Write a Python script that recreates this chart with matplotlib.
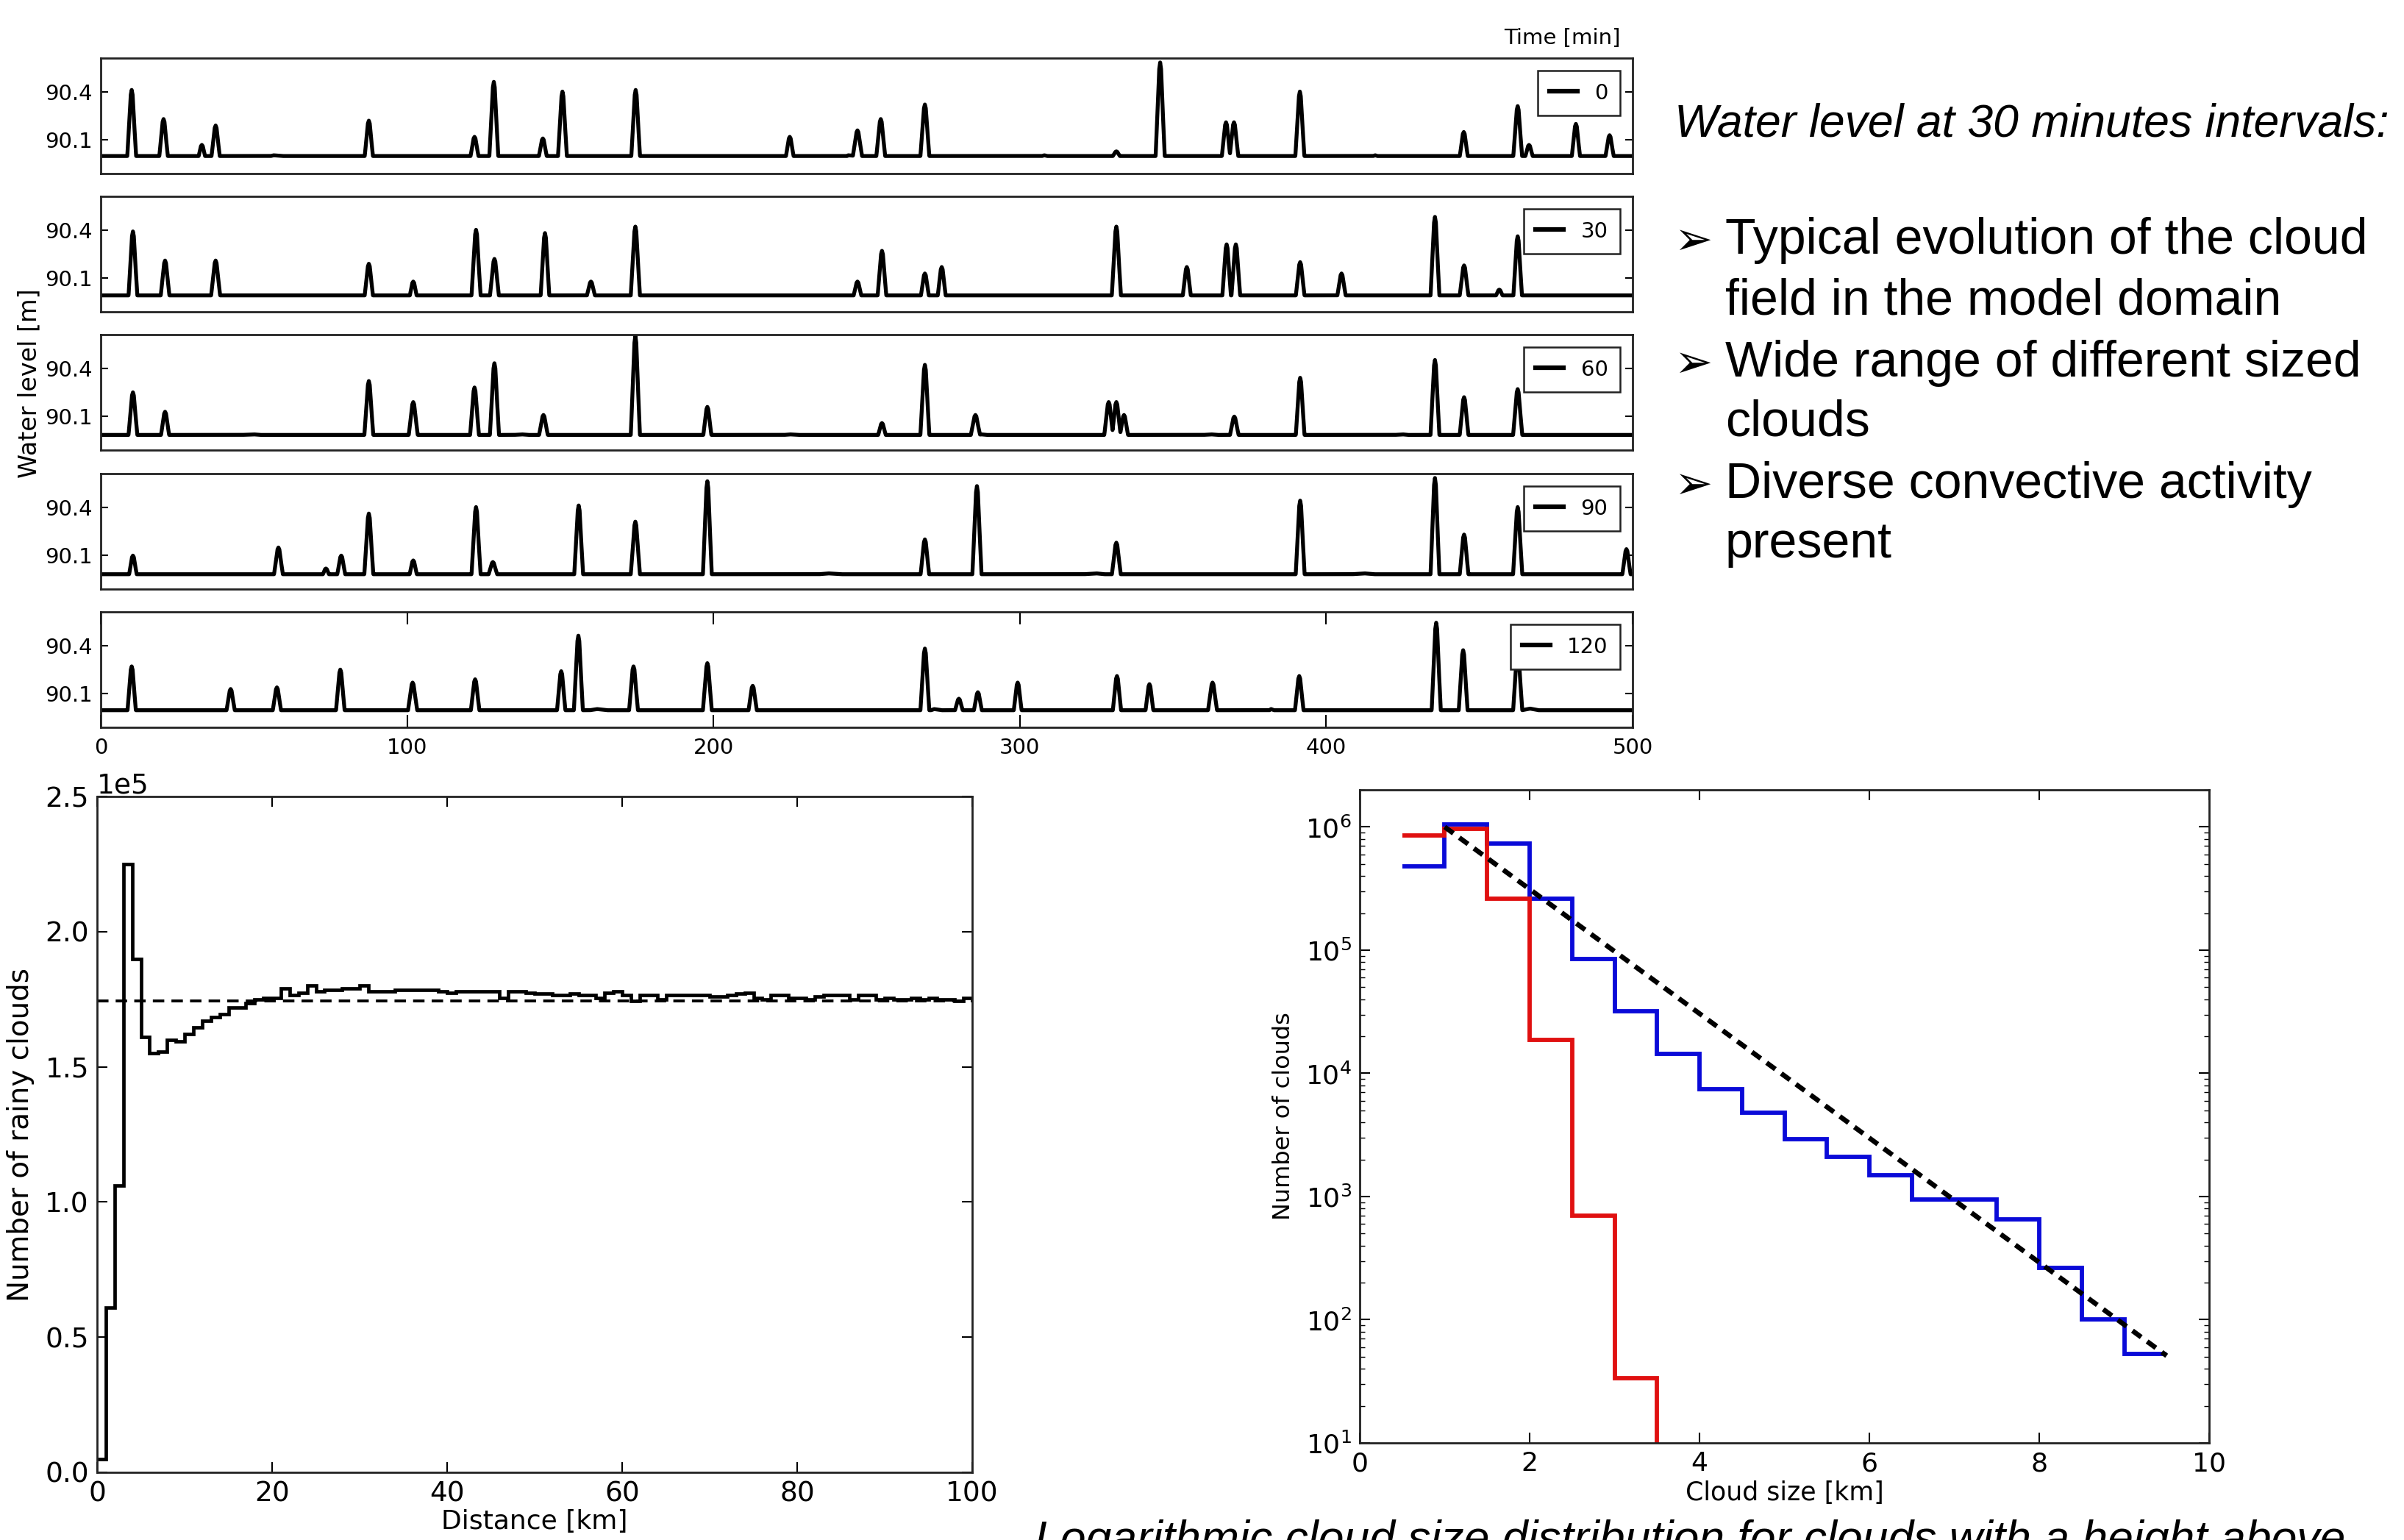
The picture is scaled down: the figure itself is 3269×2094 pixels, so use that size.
import numpy as np
import matplotlib
matplotlib.use("Agg")
import matplotlib.pyplot as plt

plt.rcParams['font.family'] = ['DejaVu Sans']

# ---- top panels: water level along the domain, every 30 min ----
times = ['0', '30', '60', '90', '120']

# background level (km, m)
base_x_0 = [0, 9, 17.6, 25.2, 31, 41, 46, 49.6, 56.4, 68, 73, 78, 85, 97, 107, 110, 114, 119,
            134, 141.4, 157, 167, 181, 186, 192, 196, 203, 207, 210, 215, 220, 231, 241, 244,
            254, 270, 277, 282, 286, 291, 299, 308, 317, 331, 349, 357, 372, 379, 386, 395,
            402, 410, 416, 426, 431, 436, 449, 454, 463, 470, 477, 482, 491, 500]
base_y_0 = [89.984, 89.984, 89.966, 90.0, 89.961, 89.984, 89.991, 89.972, 90.006, 89.988,
            89.988, 89.951, 89.966, 89.991, 89.987, 89.966, 89.991, 89.976, 89.991, 89.976,
            89.991, 89.954, 89.991, 89.976, 89.946, 89.987, 89.984, 89.951, 89.994, 89.969,
            89.976, 89.969, 89.969, 90.006, 89.991, 89.991, 89.994, 89.957, 89.987, 89.991,
            89.954, 90.006, 89.961, 89.991, 89.994, 89.946, 89.991, 89.993, 89.991, 89.994,
            89.954, 89.966, 90.006, 89.941, 90.0, 89.972, 89.976, 89.991, 89.984, 89.976,
            89.991, 89.969, 89.984, 89.976]
base_x_30 = list(np.arange(0, 501, 12.5))
base_y_30 = [89.975, 89.97, 89.985, 89.99, 89.965, 89.975, 89.995, 89.97, 89.955, 89.98,
             89.99, 89.975, 89.96, 89.985, 89.995, 89.97, 89.985, 89.96, 89.975, 89.99,
             89.97, 89.98, 89.96, 89.975, 89.99, 89.965, 89.98, 89.995, 89.97, 89.955,
             89.985, 89.975, 89.99, 89.96, 89.98, 89.97, 89.99, 89.965, 89.98, 89.975, 89.97]
base_x_60 = list(np.arange(0, 501, 12.5))
base_y_60 = [89.965, 89.975, 89.96, 89.98, 89.99, 89.97, 89.955, 89.975, 89.985, 89.96,
             89.975, 89.99, 89.97, 89.96, 89.985, 89.975, 89.955, 89.97, 89.99, 89.975,
             89.96, 89.98, 89.97, 89.99, 89.965, 89.975, 89.985, 89.96, 89.975, 89.99,
             89.97, 89.955, 89.98, 89.975, 89.99, 89.965, 89.975, 89.985, 89.96, 89.97, 89.965]
base_x_90 = list(np.arange(0, 501, 12.5))
base_y_90 = [89.96, 89.955, 89.965, 89.95, 89.97, 89.98, 89.96, 89.975, 89.955, 89.965,
             89.98, 89.97, 89.955, 89.975, 89.985, 89.965, 89.96, 89.98, 89.97, 89.99,
             89.975, 89.96, 89.97, 89.985, 89.96, 89.975, 89.99, 89.965, 89.955, 89.975,
             89.98, 89.965, 89.975, 89.99, 89.97, 89.955, 89.975, 89.985, 89.965, 89.975, 89.96]
base_x_120 = [0, 7.6, 16, 25, 29.4, 32.8, 37, 41, 48, 55, 68, 77, 86, 97, 107, 115.5, 129, 139,
              143, 152, 162, 169, 176, 181, 184, 189, 195, 203, 208, 218, 230, 240, 251, 258,
              263, 265.8, 272, 284, 294, 302, 307, 321, 327, 335, 338.5, 354, 365, 370, 374,
              378, 382, 386, 395, 406.5, 411, 418, 422, 426, 433, 441, 452, 457, 460, 466.5,
              478, 485, 489, 494, 500]
base_y_120 = [89.956, 89.968, 89.961, 89.968, 89.99, 89.965, 89.991, 89.984, 89.968, 89.981,
              89.981, 89.984, 89.953, 89.999, 89.999, 89.991, 89.972, 89.999, 89.956, 89.976,
              90.006, 89.991, 89.984, 89.961, 89.987, 89.961, 89.999, 89.968, 89.991, 89.968,
              89.991, 89.976, 89.999, 89.972, 89.981, 89.961, 90.006, 89.972, 89.999, 89.946,
              89.976, 89.976, 89.953, 89.984, 89.961, 89.976, 89.999, 89.976, 89.991, 89.953,
              90.006, 89.976, 89.984, 89.999, 89.976, 89.968, 89.976, 89.953, 89.984, 89.999,
              89.946, 89.999, 89.984, 90.009, 89.968, 89.984, 89.991, 89.968, 89.968]

peak_x_0 = [10.1, 20.5, 33.0, 37.5, 87.5, 122.0, 128.3, 144.3, 150.7, 174.6, 224.9, 247.0,
            254.6, 269.0, 331.5, 345.8, 367.3, 369.9, 391.4, 444.9, 462.5, 466.2, 481.5, 492.5]
peak_h_0 = [90.41, 90.23, 90.07, 90.19, 90.22, 90.12, 90.46, 90.11, 90.40, 90.41, 90.12, 90.16,
            90.23, 90.32, 90.03, 90.58, 90.21, 90.21, 90.40, 90.15, 90.31, 90.07, 90.20, 90.13]
peak_x_30 = [10.5, 21, 37.5, 87.5, 102, 122.5, 128.5, 145, 160, 174.5, 247, 255, 269, 274.5,
             331.5, 354.5, 367.5, 370.5, 391.5, 405, 435.5, 445, 456.5, 462.5]
peak_h_30 = [90.39, 90.21, 90.21, 90.19, 90.08, 90.40, 90.22, 90.38, 90.08, 90.42, 90.08, 90.27,
             90.13, 90.17, 90.42, 90.17, 90.31, 90.31, 90.20, 90.13, 90.48, 90.18, 90.03, 90.36]
peak_x_60 = [10.5, 21, 87.5, 102, 122, 128.5, 144.5, 174.5, 198, 255, 269, 285.5, 329, 331.5,
             334, 370, 391.5, 435.5, 445, 462.5]
peak_h_60 = [90.25, 90.13, 90.32, 90.19, 90.28, 90.43, 90.11, 90.60, 90.16, 90.06, 90.42, 90.11,
             90.19, 90.19, 90.11, 90.10, 90.34, 90.45, 90.22, 90.27]
peak_x_90 = [10.5, 58, 73.5, 78.5, 87.5, 102, 122.5, 128, 156, 174.5, 198, 269, 286, 331.5,
             391.5, 435.5, 445, 462.5, 498]
peak_h_90 = [90.10, 90.15, 90.02, 90.10, 90.36, 90.07, 90.40, 90.06, 90.41, 90.31, 90.56, 90.20,
             90.53, 90.18, 90.44, 90.58, 90.23, 90.40, 90.14]
peak_x_120 = [10.1, 42.4, 57.5, 78.2, 101.8, 122.2, 150.3, 155.9, 173.9, 198.0, 212.8, 269.0,
              280.1, 286.3, 299.3, 331.7, 342.3, 362.9, 391.2, 435.9, 444.7, 462.5]
peak_h_120 = [90.27, 90.13, 90.14, 90.25, 90.17, 90.19, 90.24, 90.46, 90.27, 90.29, 90.15, 90.38,
              90.07, 90.11, 90.17, 90.21, 90.16, 90.17, 90.21, 90.54, 90.37, 90.37]

bases_x = [base_x_0, base_x_30, base_x_60, base_x_90, base_x_120]
bases_y = [base_y_0, base_y_30, base_y_60, base_y_90, base_y_120]
peaks_x = [peak_x_0, peak_x_30, peak_x_60, peak_x_90, peak_x_120]
peaks_h = [peak_h_0, peak_h_30, peak_h_60, peak_h_90, peak_h_120]

# ---- bottom left: rainy clouds vs distance (1 km bins, x1e5) ----
dist_edges = np.arange(0, 101, 1)
rainy = [0.05, 0.61, 1.06, 2.25, 1.90, 1.61, 1.55, 1.555, 1.60, 1.595,
         1.62, 1.645, 1.67, 1.685, 1.695, 1.72, 1.72, 1.735, 1.75, 1.755,
         1.755, 1.79, 1.765, 1.775, 1.80, 1.78, 1.785, 1.785, 1.79, 1.79,
         1.80, 1.78, 1.78, 1.78, 1.785, 1.785, 1.785, 1.785, 1.785, 1.78,
         1.775, 1.78, 1.78, 1.78, 1.78, 1.78, 1.755, 1.78, 1.78, 1.775,
         1.77, 1.77, 1.765, 1.765, 1.77, 1.765, 1.765, 1.755, 1.775, 1.78,
         1.765, 1.745, 1.765, 1.765, 1.75, 1.765, 1.765, 1.765, 1.765, 1.765,
         1.76, 1.76, 1.765, 1.77, 1.775, 1.755, 1.75, 1.765, 1.765, 1.755,
         1.755, 1.75, 1.76, 1.765, 1.765, 1.765, 1.75, 1.765, 1.765, 1.75,
         1.755, 1.75, 1.75, 1.755, 1.75, 1.755, 1.75, 1.75, 1.745, 1.755]
rainy_mean = 1.745

# ---- bottom right: cloud size distribution ----
size_edges_blue = np.arange(0.5, 9.51, 0.5)
blue_counts = [4.8e5, 1.05e6, 7.3e5, 2.6e5, 8.5e4, 3.2e4, 1.43e4, 7.4e3, 4.8e3,
               2.94e3, 2.09e3, 1.49e3, 9.5e2, 9.5e2, 6.5e2, 2.65e2, 1.01e2, 53]
size_edges_red = np.arange(0.5, 4.01, 0.5)
red_counts = [8.55e5, 9.6e5, 2.6e5, 1.86e4, 6.95e2, 33.6, 1.0]
fit_x = [1.0, 9.5]
fit_y = [1.0e6, 51]

W, H = 3269, 2094
fig = plt.figure(figsize=(W / 100, H / 100), dpi=100)


def box(x0, y0, x1, y1):
    return [x0 / W, 1 - y1 / H, (x1 - x0) / W, (y1 - y0) / H]


def style_axes(ax, size):
    for s in ax.spines.values():
        s.set_linewidth(2)
        s.set_color('#222222')
    ax.tick_params(direction='in', top=True, right=True, labelsize=size,
                   length=10, width=1.5, pad=8)


offs = [-1.5, -0.7, -0.3, 0, 0.3, 0.7, 1.5]
fracs = [0, 0.6, 0.93, 1, 0.93, 0.6, 0]
grid = np.linspace(0, 500, 10001)
tops = [79, 267, 455, 644, 832]
for i in range(5):
    ax = fig.add_axes(box(137, tops[i], 2220, tops[i] + 157))
    y = np.interp(grid, bases_x[i], bases_y[i])
    for p, h in zip(peaks_x[i], peaks_h[i]):
        b = np.interp(p, bases_x[i], bases_y[i])
        shape = b + np.interp(grid - p, offs, fracs) * (h - b)
        y = np.maximum(y, shape)
    ax.plot(grid, y, color='black', lw=3.8, label=times[i])
    ax.set_xlim(0, 500)
    ax.set_ylim(89.893, 90.607)
    ax.set_yticks([90.1, 90.4])
    ax.set_yticklabels(['90.1', '90.4'])
    style_axes(ax, 21)
    ax.tick_params(axis='y', length=7)
    if i < 4:
        ax.set_xticks([])
    else:
        ax.set_xticks(range(0, 501, 100))
        ax.tick_params(axis='x', length=12, pad=10)
    leg = ax.legend(loc='upper right', fontsize=21, handlelength=1.3, borderaxespad=0.6,
                    fancybox=False, framealpha=1, borderpad=0.55, handletextpad=0.8)
    leg.get_frame().set_edgecolor('#222222')
    leg.get_frame().set_linewidth(1.8)
    for ln in leg.get_lines():
        ln.set_linewidth(4.5)

fig.text(2204 / W, 1 - 60 / H, 'Time [min]', ha='right', va='baseline', fontsize=21)
fig.text(40 / W, 1 - 521 / H, 'Water level [m]', rotation=90, ha='center', va='center',
         fontsize=24)

# bottom left
ax1 = fig.add_axes(box(132, 1083, 1322, 2002))
ax1.stairs(np.array(rainy) * 1e5, dist_edges, baseline=None, color='black', lw=3.4)
ax1.plot([0, 100], [rainy_mean * 1e5, rainy_mean * 1e5], color='black', lw=2.8,
         ls=(0, (4, 2.5)))
ax1.set_xlim(0, 100)
ax1.set_ylim(0, 2.5e5)
ax1.set_xticks(range(0, 101, 20))
ax1.set_yticks(np.arange(0, 2.51e5, 0.5e5))
ax1.ticklabel_format(style='sci', axis='y', scilimits=(0, 0))
style_axes(ax1, 27)
ax1.yaxis.get_offset_text().set_fontsize(27)
ax1.set_xlabel('Distance [km]', fontsize=26, labelpad=2)
ax1.set_ylabel('Number of rainy clouds', fontsize=28, labelpad=10)

# bottom right
ax2 = fig.add_axes(box(1849, 1074, 3004, 1962))
ax2.stairs(blue_counts, size_edges_blue, baseline=None, color='#0a0ad8', lw=4.2)
ax2.stairs(red_counts, size_edges_red, baseline=None, color='#e01010', lw=4.2)
ax2.plot(fit_x, fit_y, color='black', lw=4.8, ls=(0, (2.2, 1.5)))
ax2.set_yscale('log')
ax2.set_xlim(0, 10)
ax2.set_ylim(10, 2e6)
ax2.set_xticks(range(0, 11, 2))
style_axes(ax2, 26)
ax2.tick_params(which='minor', direction='in', top=True, right=True, length=5, width=1)
ax2.set_xlabel('Cloud size [km]', fontsize=25, labelpad=4)
ax2.set_ylabel('Number of clouds', fontsize=23, labelpad=10)

# text block
fig.text(2277 / W, 1 - 169 / H, 'Water level at 30 minutes intervals:', fontsize=45,
         style='italic', family=['Liberation Sans', 'DejaVu Sans'], va='center', ha='left')
bullet_lines = [('\u27a2', 'Typical evolution of the cloud'),
                ('', 'field in the model domain'),
                ('\u27a2', 'Wide range of different sized'),
                ('', 'clouds'),
                ('\u27a2', 'Diverse convective activity'),
                ('', 'present')]
line_y = [327, 409, 494, 575, 659, 740]
for (b, t), yy in zip(bullet_lines, line_y):
    if b:
        fig.text(2276 / W, 1 - (yy + 2) / H, b, fontsize=45, va='center', ha='left',
                 family=['DejaVu Sans'])
    fig.text(2346 / W, 1 - yy / H, t, fontsize=49, va='center', ha='left',
             family=['Liberation Sans', 'DejaVu Sans'])

fig.text(1407 / W, 1 - 2066 / H,
         'Logarithmic cloud size distribution for clouds with a height above',
         fontsize=45, style='italic', family=['Liberation Sans', 'DejaVu Sans'],
         va='top', ha='left')

fig.savefig('out.png', dpi=100)
